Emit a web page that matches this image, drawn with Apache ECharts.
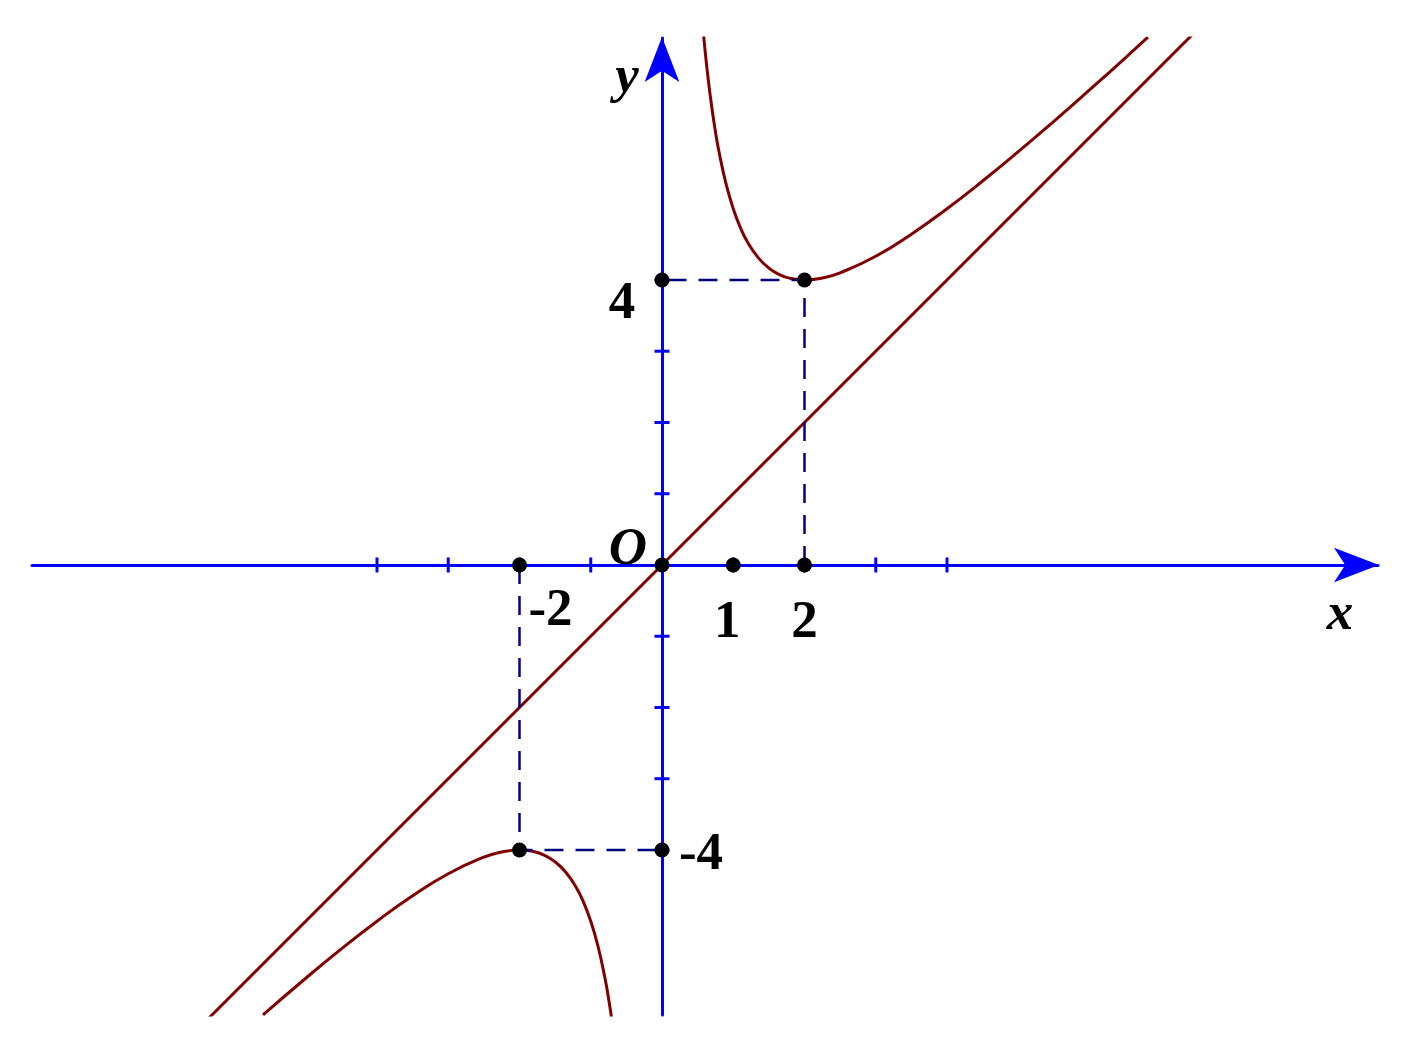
<!DOCTYPE html>
<html>
<head>
<meta charset="utf-8">
<script src="https://cdn.jsdelivr.net/npm/echarts@6/dist/echarts.min.js"></script>
<style>
html,body{margin:0;padding:0;background:#fff;}
#chart{width:1409px;height:1047px;}
</style>
</head>
<body>
<div id="chart"></div>
<script>
// ---- data ----
const upperBranch = [
  [0.56, 7.703], [0.6, 7.267], [0.65, 6.804], [0.7, 6.414], [0.75, 6.083], [0.8, 5.8],
  [0.9, 5.344], [1.0, 5.0], [1.1, 4.736], [1.2, 4.533], [1.35, 4.313], [1.5, 4.167],
  [1.65, 4.074], [1.8, 4.022], [2.0, 4.0], [2.25, 4.028], [2.5, 4.1], [3.0, 4.333],
  [3.5, 4.643], [4.0, 5.0], [4.5, 5.389], [5.0, 5.8], [5.5, 6.227], [6.0, 6.667],
  [6.5, 7.115], [6.82, 7.407]
];
const lowerBranch = [
  [-5.6, -6.314], [-5.0, -5.8], [-4.5, -5.389], [-4.0, -5.0], [-3.5, -4.643], [-3.0, -4.333],
  [-2.5, -4.1], [-2.25, -4.028], [-2.0, -4.0], [-1.8, -4.022], [-1.65, -4.074], [-1.5, -4.167],
  [-1.35, -4.313], [-1.2, -4.533], [-1.1, -4.736], [-1.0, -5.0], [-0.9, -5.344], [-0.8, -5.8],
  [-0.75, -6.083], [-0.7, -6.414]
];
const asymptote = [[-6.4, -6.4], [7.5, 7.5]];
const dashedRight = [[2, 0], [2, 4], [0, 4]];
const dashedLeft = [[-2, 0], [-2, -4], [0, -4]];
const keyPoints = [[-2, 0], [0, 0], [1, 0], [2, 0], [0, 4], [2, 4], [-2, -4], [0, -4]];
const xTickValues = [-4, -3, -2, -1, 1, 2, 3, 4];
const yTickValues = [-4, -3, -2, -1, 1, 2, 3, 4];
const tickLabelTexts = ['-2', '1', '2', '4', '-4'];
const tickLabelAnchors = [[-2, 0], [1, 0], [2, 0], [0, 4], [0, -4]];
const axisNameTexts = ['O', 'x', 'y'];
const axisNameAnchors = [[0, 0], [9.5, 0], [0, 7]];
const xRange = [-8.842, 10.049];
const yRange = [-6.316, 7.396];

// ---- styles ----
const tickLabelOffsets = [[31, 46], [-6, 58], [0, 58], [-40, 24], [39, 5]];
const axisNameOffsets = [[-34, -15], [1, 50], [-35, 12]];
const AXIS_BLUE = '#0000ff';
const CURVE = '#800000';
const DASH = '#000080';
const FONT = 'Liberation Serif';

const chart = echarts.init(document.getElementById('chart'), null, {renderer: 'canvas'});

function axisDef(min, max) {
  return {
    type: 'value', min: min, max: max,
    splitLine: {show: false},
    axisTick: {show: false},
    axisLabel: {show: false},
    axisLine: {
      show: true, onZero: true,
      lineStyle: {color: AXIS_BLUE, width: 3},
      symbol: ['none', 'arrow'],
      symbolSize: [26, 45],
      symbolOffset: [0, 1]
    }
  };
}

const labelData = tickLabelTexts.map((t, i) => ({
  value: tickLabelAnchors[i], name: t,
  label: {offset: tickLabelOffsets[i]}
})).concat(axisNameTexts.map((t, i) => ({
  value: axisNameAnchors[i], name: t,
  label: {offset: axisNameOffsets[i], fontStyle: 'italic'}
})));

chart.setOption({
  animation: false,
  backgroundColor: '#ffffff',
  grid: {left: 32, right: 31, top: 38, bottom: 32, containLabel: false},
  xAxis: axisDef(xRange[0], xRange[1]),
  yAxis: axisDef(yRange[0], yRange[1]),
  series: [
    {
      type: 'scatter', name: 'xticks', symbol: 'rect', symbolSize: [3, 15],
      data: xTickValues.map(v => [v, 0]), itemStyle: {color: AXIS_BLUE, opacity: 1}, z: 2, silent: true
    },
    {
      type: 'scatter', name: 'yticks', symbol: 'rect', symbolSize: [15, 3],
      data: yTickValues.map(v => [0, v]), itemStyle: {color: AXIS_BLUE, opacity: 1}, z: 2, silent: true
    },
    {
      type: 'line', name: 'asymptote', data: asymptote, showSymbol: false, clip: true,
      lineStyle: {color: CURVE, width: 3}, z: 3
    },
    {
      type: 'line', name: 'upper', data: upperBranch, showSymbol: false, smooth: true, clip: true,
      lineStyle: {color: CURVE, width: 3}, z: 3
    },
    {
      type: 'line', name: 'lower', data: lowerBranch, showSymbol: false, smooth: true, clip: true,
      lineStyle: {color: CURVE, width: 3}, z: 3
    },
    {
      type: 'line', name: 'dashR', data: dashedRight, showSymbol: false,
      lineStyle: {color: DASH, width: 2.5, type: [19, 12]}, z: 4
    },
    {
      type: 'line', name: 'dashL', data: dashedLeft, showSymbol: false,
      lineStyle: {color: DASH, width: 2.5, type: [19, 12]}, z: 4
    },
    {
      type: 'scatter', name: 'points', data: keyPoints, symbol: 'circle', symbolSize: 15,
      itemStyle: {color: '#000000', opacity: 1}, z: 6
    },
    {
      type: 'scatter', name: 'labels', data: labelData, symbolSize: 0, z: 7, silent: true,
      itemStyle: {opacity: 1},
      label: {
        show: true, position: 'inside', formatter: p => p.name,
        fontFamily: FONT, fontWeight: 'bold', fontSize: 53, color: '#000000'
      }
    }
  ]
});
</script>
</body>
</html>
